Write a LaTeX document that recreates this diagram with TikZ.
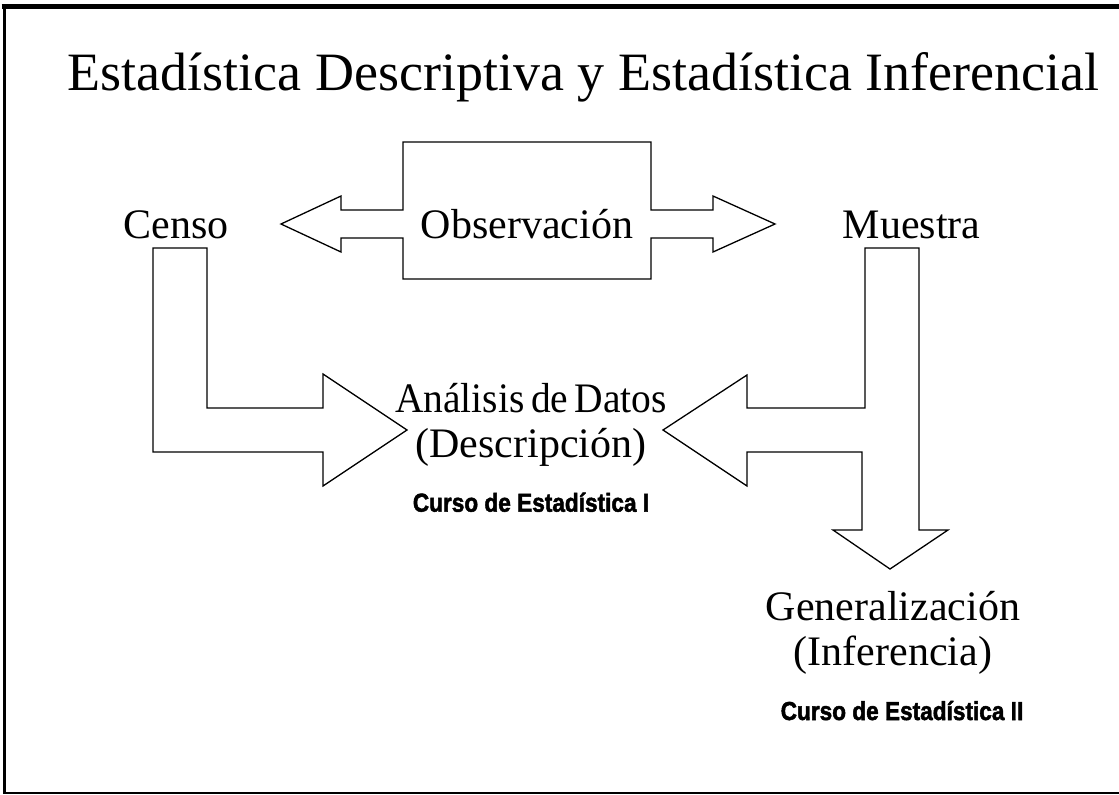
\documentclass[tikz,border=0pt]{standalone}
\usepackage{fontspec}
\usepackage{graphicx}
\setmainfont{Liberation Serif}
\newfontfamily\cursofont[BoldFeatures={FakeBold=2}]{Liberation Sans}
\usepackage{tikz}

\begin{document}
\begin{tikzpicture}[x=1pt, y=-1pt, line width=1.3pt,
  texto/.style={anchor=base, inner sep=0pt, align=center, font=\fontsize{42pt}{44.5pt}\selectfont},
  curso/.style={anchor=base, inner sep=0pt, font=\cursofont\bfseries\fontsize{26pt}{28pt}\selectfont}]
 \useasboundingbox (0,0) rectangle (1119,795);
 \draw[line width=5pt] (1.5,6.5) -- (1119,6.5);
 \draw[line width=3pt] (4.2,4) -- (4.2,794);
 \draw[line width=2pt] (3,793) -- (1119,793);
 \node (titulo) at (583.5,90) [anchor=base, inner sep=0pt, font=\fontsize{54pt}{60pt}\selectfont] {Estadística Descriptiva y Estadística Inferencial};
 \draw (403,142) -- (651,142) -- (651,210) -- (713,210) -- (713,196) -- (775,224) -- (713,252) -- (713,238) -- (651,238) -- (651,279)
   -- (403,279) -- (403,238) -- (341,238) -- (341,252) -- (281,224) -- (341,196) -- (341,210) -- (403,210) -- cycle;
 \draw (153,248) -- (207,248) -- (207,408) -- (323,408) -- (323,374) -- (407,430) -- (323,486) -- (323,452) -- (153,452) -- cycle;
 \draw (865,248) -- (919,248) -- (919,530) -- (948,530) -- (890,569) -- (833,530) -- (862,530) -- (862,452) -- (747,452)
   -- (747,486) -- (663,430) -- (747,375) -- (747,408) -- (865,408) -- cycle;
 \node (censo) at (176,238) [texto] {Censo};
 \node (observacion) at (527,238) [texto] {Observación};
 \node (muestra) at (911.5,238) [texto] {Muestra};
 \node (analisis) at (531,457) [texto] {\scalebox{.94}[1]{Análisis\,de\,Datos}\\(Descripción)};
 \node (curso1) at (531,511.7) [curso] {\scalebox{.87}[1]{Curso de Estadística I}};
 \node (generalizacion) at (893,665) [texto] {Generalización\\(Inferencia)};
 \node (curso2) at (902,720) [curso] {\scalebox{.87}[1]{Curso de Estadística II}};
\end{tikzpicture}
\end{document}
